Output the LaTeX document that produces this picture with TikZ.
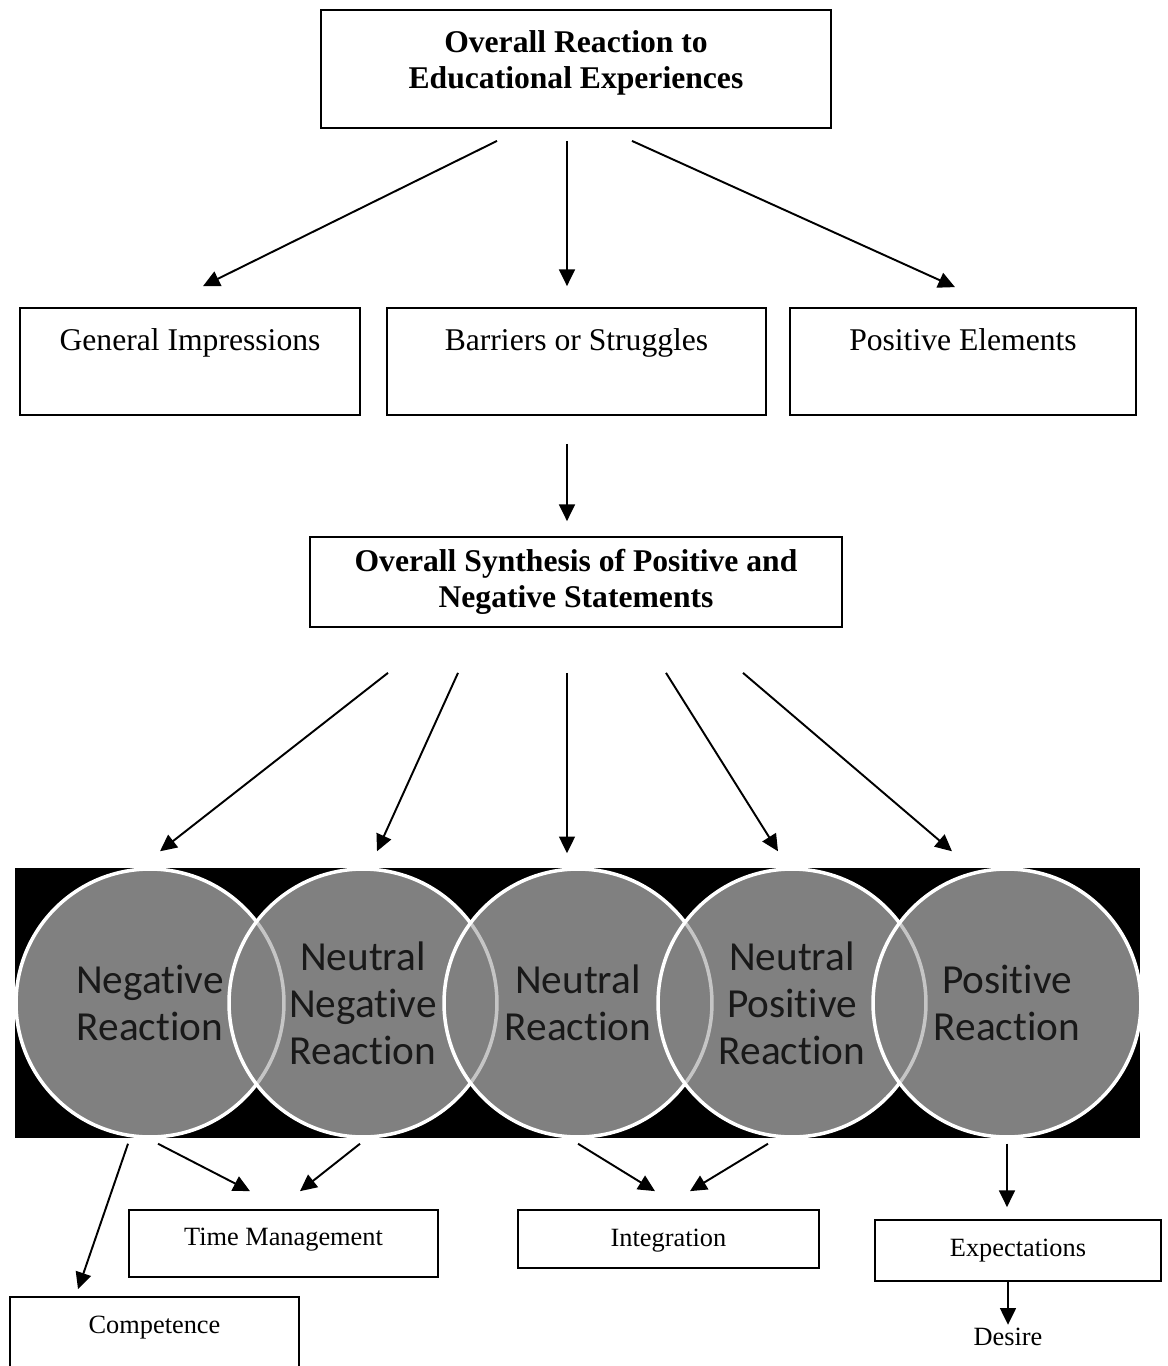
\documentclass[tikz,border=0pt]{standalone}
\usepackage{fontspec}
\setmainfont{Liberation Serif}
\newfontfamily\circfont[Ligatures=NoCommon]{Carlito}
\usetikzlibrary{arrows.meta, positioning, calc}

\begin{document}
\begin{tikzpicture}[
  x=0.02cm, y=-0.02cm,
  box/.style={rectangle, draw, line width=1pt, inner sep=0pt, font=\fontsize{18}{20.5}\selectfont},
  rowbox/.style={box, text height=24.2pt, text depth=36.7pt, minimum width=#1},
  headbox/.style={box, font=\bfseries\fontsize{18}{20.5}\selectfont, align=center},
  sbox/.style={rectangle, draw, line width=1pt, inner sep=0pt, font=\fontsize{15}{17}\selectfont},
  reaction/.style={circle, minimum size=5.36cm, inner sep=0pt, draw=white, line width=2pt, fill=black!50, fill opacity=0.45, text opacity=1, text=black!90, align=center, font=\circfont\fontsize{23.5}{26.7}\selectfont},
  arr/.style={-{Triangle[length=9.5pt, width=9pt]}, line width=1.1pt},
]
\useasboundingbox (0,0) rectangle (1167,1366);

% top and first row
\node[headbox, minimum width=10.2cm, text height=44.7pt, text depth=22.5pt] (top) at (576,69) {Overall Reaction to\\Educational Experiences};
\node[rowbox=6.8cm] (gen) at (190,361.5) {General Impressions};
\node[rowbox=7.58cm] (bar) at (576.5,361.5) {Barriers or Struggles};
\node[rowbox=6.92cm] (posel) at (963,361.5) {Positive Elements};
\node[headbox, minimum width=10.64cm, minimum height=1.8cm] (synth) at (576,582) {Overall Synthesis of Positive and\\Negative Statements};

\draw[arr] ($(top.south)+(-79,12)$) -- ($(gen.north)+(13,-21)$);
\draw[arr] ($(top.south)+(-9,12)$) -- ($(bar.north)+(-9.5,-21)$);
\draw[arr] ($(top.south)+(56,12)$) -- ($(posel.north)+(-8,-20)$);
\draw[arr] ($(bar.south)+(-9.5,28)$) -- ($(synth.north)+(-9,-15)$);

% reaction circles
\fill[black] (15,868) rectangle (1140,1138);
\foreach \cx in {150,363,578,792,1007}
  \fill[black!50] (\cx,1003) circle[radius=134];
\node[reaction] (neg) at (150,1003) {Negative\\Reaction};
\node[reaction] (nneg) at (363,1003) {Neutral\\Negative\\Reaction};
\node[reaction] (neu) at (578,1003) {Neutral\\Reaction};
\node[reaction] (npos) at (792,1003) {Neutral\\Positive\\Reaction};
\node[reaction] (pos) at (1007,1003) {Positive\\Reaction};

\draw[arr] ($(synth.south)+(-188,45)$) -- ($(neg.north)+(10,-16)$);
\draw[arr] ($(synth.south)+(-118,45)$) -- ($(nneg.north)+(14,-16)$);
\draw[arr] ($(synth.south)+(-9,45)$) -- ($(neu.north)+(-11,-14)$);
\draw[arr] ($(synth.south)+(90,45)$) -- ($(npos.north)+(-14,-16)$);
\draw[arr] ($(synth.south)+(167,45)$) -- ($(pos.north)+(-55,-16)$);

% themes
\node[sbox, minimum width=6.18cm, text height=20.3pt, text depth=17.8pt] (tm) at (283.5,1243.5) {Time Management};
\node[sbox, minimum width=6.02cm, text height=20.5pt, text depth=12.5pt] (integ) at (668.5,1239) {Integration};
\node[sbox, minimum width=5.72cm, text height=21pt, text depth=13.7pt] (expe) at (1018,1250.5) {Expectations};
\node[sbox, minimum width=5.78cm, text height=21pt, text depth=26.2pt] (comp) at (154.5,1338.5) {Competence};
\node[font=\fontsize{15}{17}\selectfont, inner sep=0pt] (desire) at (1008,1337) {Desire};

\draw[arr] ($(neg.south)+(-22,5)$) -- ($(comp.north)+(-76.5,-7)$);
\draw[arr] ($(neg.south)+(8,5)$) -- ($(tm.north)+(-33.5,-18)$);
\draw[arr] ($(nneg.south)+(-3,5)$) -- ($(tm.north)+(16.5,-18)$);
\draw[arr] ($(neu.south)+(0,5)$) -- ($(integ.north)+(-13.5,-18)$);
\draw[arr] ($(npos.south)+(-24,5)$) -- ($(integ.north)+(21.5,-18)$);
\draw[arr] ($(pos.south)+(0,5)$) -- ($(expe.north)+(-11,-12)$);
\draw[arr] ($(expe.south)+(-10,0)$) -- ($(desire.north)+(0,-3)$);

\end{tikzpicture}
\end{document}
